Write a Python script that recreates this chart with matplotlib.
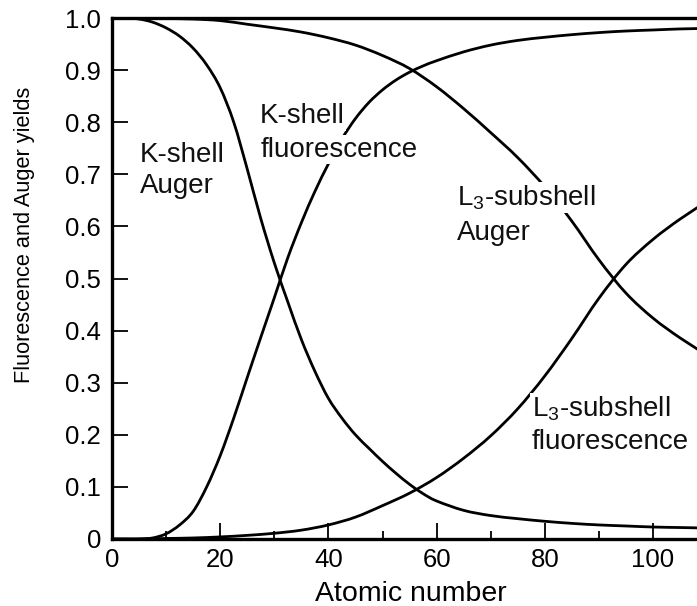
import matplotlib
matplotlib.use("Agg")
import numpy as np
from matplotlib import pyplot as plt
from matplotlib.path import Path
from matplotlib.patches import PathPatch
from matplotlib.ticker import FixedLocator

plt.rcParams['font.family'] = ['Liberation Sans', 'DejaVu Sans']
plt.rcParams['mathtext.fontset'] = 'custom'
plt.rcParams['mathtext.rm'] = 'Liberation Sans'
plt.rcParams['mathtext.default'] = 'regular'

# K殻 (2.5刻み)
z_k = [0, 2.5, 5, 7.5, 10, 12.5, 15, 17.5, 20, 22.5, 25, 27.5, 30, 32.5, 35,
       37.5, 40, 42.5, 45, 47.5, 50, 52.5, 55, 57.5, 60, 65, 70, 75, 80, 85,
       90, 95, 100, 105, 110]
k_fluor = [0, 0, 0, 0.002, 0.01, 0.027, 0.053, 0.1, 0.16, 0.232, 0.31, 0.387,
           0.463, 0.54, 0.607, 0.667, 0.72, 0.768, 0.807, 0.838, 0.862, 0.881,
           0.896, 0.908, 0.918, 0.935, 0.948, 0.957, 0.963, 0.968, 0.972,
           0.975, 0.977, 0.979, 0.98]
k_auger = [1.0, 1.0, 0.998, 0.992, 0.981, 0.965, 0.942, 0.91, 0.866, 0.80,
           0.71, 0.615, 0.53, 0.455, 0.383, 0.322, 0.27, 0.232, 0.2, 0.174,
           0.149, 0.126, 0.105, 0.087, 0.073, 0.055, 0.045, 0.039, 0.034,
           0.03, 0.027, 0.025, 0.023, 0.022, 0.021]

# L3殻 (5刻み)
z_l = [0, 5, 10, 15, 20, 25, 30, 35, 40, 45, 50, 55, 60, 65, 70, 75, 80, 85,
       90, 95, 100, 105, 110]
l3_fluor = [0, 0, 0.001, 0.002, 0.004, 0.007, 0.011, 0.017, 0.027, 0.042,
            0.064, 0.088, 0.118, 0.155, 0.198, 0.25, 0.313, 0.385, 0.462,
            0.527, 0.575, 0.614, 0.648]
l3_auger = [1.0, 1.0, 0.999, 0.998, 0.995, 0.988, 0.981, 0.973, 0.962, 0.948,
            0.928, 0.903, 0.868, 0.826, 0.78, 0.732, 0.676, 0.61, 0.536,
            0.472, 0.424, 0.386, 0.353]

x_major = [0, 20, 40, 60, 80, 100]
x_minor = [10, 30, 50, 70, 90, 110]
y_ticks = [0, 0.1, 0.2, 0.3, 0.4, 0.5, 0.6, 0.7, 0.8, 0.9, 1.0]
y_ticklabels = ['0', '0.1', '0.2', '0.3', '0.4', '0.5', '0.6', '0.7', '0.8', '0.9', '1.0']


def smooth_curve(xs, ys):
    # 点を通るベジェ曲線 (Catmull-Rom)
    p = np.column_stack([xs, ys]).astype(float)
    n = len(p)
    verts = [p[0]]
    codes = [Path.MOVETO]
    for i in range(n - 1):
        p0 = p[i - 1] if i > 0 else p[i]
        p3 = p[i + 2] if i + 2 < n else p[i + 1]
        verts += [p[i] + (p[i + 1] - p0) / 6, p[i + 1] - (p3 - p[i]) / 6, p[i + 1]]
        codes += [Path.CURVE4] * 3
    return Path(verts, codes)


fig = plt.figure(figsize=(6.97, 6.06), dpi=100)
# 右側は元画像で切れているので、軸をはみ出させる
ax = fig.add_axes([112 / 697, 1 - 539 / 606, 120 * 5.41 / 697, 521 / 606])

for xs, ys in ((z_k, k_fluor), (z_k, k_auger), (z_l, l3_fluor), (z_l, l3_auger)):
    ax.add_patch(PathPatch(smooth_curve(xs, ys), facecolor='none',
                           edgecolor='black', lw=2.0, capstyle='butt', zorder=2))

ax.set_xlim(0, 120)
ax.set_ylim(0, 1.0)
ax.xaxis.set_major_locator(FixedLocator(x_major))
ax.xaxis.set_minor_locator(FixedLocator(x_minor))
ax.yaxis.set_major_locator(FixedLocator(y_ticks))
ax.set_yticklabels(y_ticklabels)

ax.tick_params(axis='both', which='major', direction='in', length=11.5,
               width=1.3, labelsize=18.5, colors='black')
ax.tick_params(axis='x', which='major', pad=6.5)
ax.tick_params(axis='y', which='major', pad=8)
ax.tick_params(axis='x', which='minor', direction='in', length=6, width=1.3)
ax.tick_params(right=False, top=False)

for side in ('left', 'top', 'bottom'):
    ax.spines[side].set_linewidth(2.4)
ax.spines['right'].set_visible(False)

ax.set_xlabel('Atomic number', fontsize=20.5)
ax.xaxis.label.set_va('baseline')
ax.xaxis.set_label_coords(55.3 / 120, -0.119)
ax.set_ylabel('Fluorescence and Auger yields', fontsize=15.7)
ax.yaxis.set_label_coords(-0.1186, 0.5835)

# ラベル（行ごとに白背景）
box = dict(facecolor='white', edgecolor='none', pad=1)
labels = [
    (5.2, 0.7236, 'K-shell'), (5.2, 0.664, 'Auger'),
    (27.4, 0.798, 'K-shell'), (27.4, 0.734, 'fluorescence'),
    (63.7, 0.641, r'L$_3$-subshell'), (63.7, 0.574, 'Auger'),
    (77.6, 0.2347, r'L$_3$-subshell'), (77.6, 0.1727, 'fluorescence'),
]
for x, y, s in labels:
    ax.text(x, y, s, fontsize=20, ha='left', va='baseline', color='#111111',
            bbox=box, zorder=3)

fig.savefig('out.png', dpi=100)
